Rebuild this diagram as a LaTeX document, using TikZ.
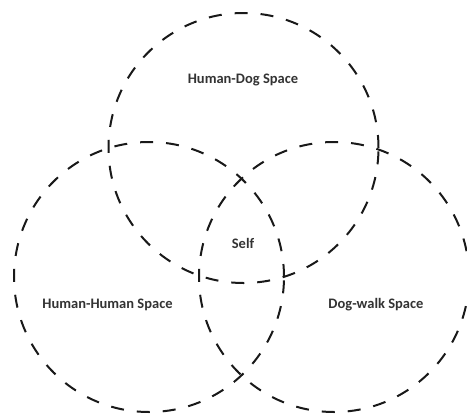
\documentclass[tikz,border=0pt]{standalone}
\usepackage{fontspec}
\setmainfont{Carlito}
\begin{document}
\begin{tikzpicture}[x=1pt,y=-1pt,
  ring/.style={draw=black!90, line width=2pt, dash pattern=on 13pt off 13pt, circle, minimum size=270pt, inner sep=0pt},
  lbl/.style={font=\bfseries\fontsize{14.5}{16}\selectfont, text=black!80}]
\useasboundingbox (0,0) rectangle (467,416);
\node[ring] (top) at (243.5,148) {};
\node[ring] (left) at (149,277) {};
\node[ring] (right) at (334,277) {};
\node[lbl] (hd) at (243,80) {Human-Dog Space};
\node[lbl] (self) at (243,243) {Self};
\node[lbl] (hh) at (107.5,305) {Human-Human Space};
\node[lbl] (dw) at (376,305) {Dog-walk Space};
\end{tikzpicture}
\end{document}
